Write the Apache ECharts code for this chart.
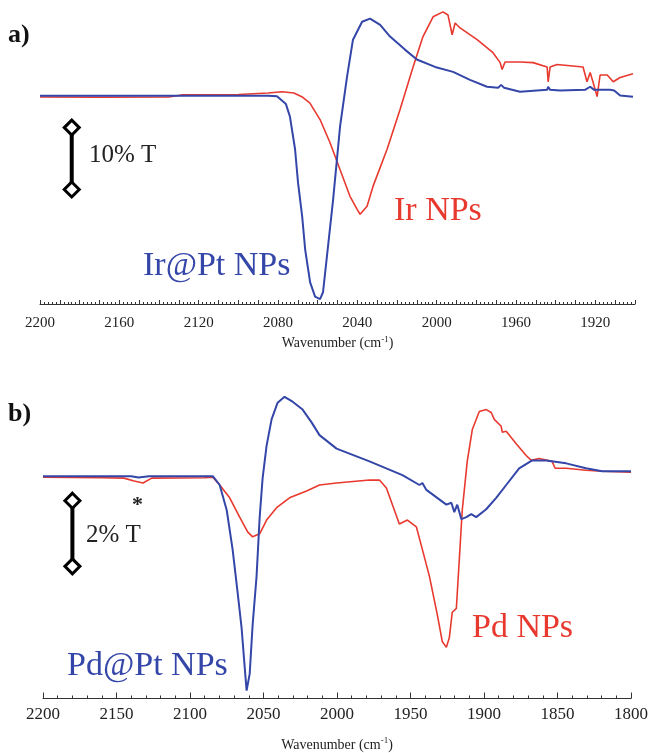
<!DOCTYPE html>
<html>
<head>
<meta charset="utf-8">
<script src="https://cdn.jsdelivr.net/npm/echarts@6/dist/echarts.min.js"></script>
<style>
  html, body { margin: 0; padding: 0; background: #fff; }
  #chart { width: 651px; height: 753px; }
</style>
</head>
<body>
<div id="chart"></div>
<script>
// panel a: Ir@Pt NPs (blue) and Ir NPs (red), relative %T
const irPtWn = [2200, 2150, 2100, 2085, 2080.5, 2076, 2074, 2071.4, 2069.9, 2067.8, 2066.3, 2063.8, 2061.3, 2058.8,
  2057.3, 2052.2, 2048.7, 2045.2, 2042.2, 2037.6, 2033.6, 2028.5, 2023.5, 2016, 2010, 2000.8, 1991.7, 1983.2,
  1974.6, 1969, 1967.5, 1966, 1958, 1944.3, 1943.8, 1942.8, 1937.8, 1925.2, 1922.6, 1920.6, 1917.6, 1912.6,
  1910.5, 1907.5, 1901]
const irPtT = [0.15, 0.15, 0.15, 0.15, 0.05, -1.2, -3.2, -8.5, -13.9, -19.4, -24.7, -30, -32.3, -32.7,
  -31.6, -16.6, -4.8, 3.2, 9.2, 12.1, 12.6, 11.6, 9.7, 7.6, 6.0, 4.8, 4.0, 2.7,
  1.6, 1.45, 1.9, 1.45, 0.8, 1.1, 1.6, 1.1, 1.0, 1.1, 1.6, 1.1, 1.1, 1.1,
  1.0, 0.2, 0.0]

const irWn = [2200, 2170, 2135, 2128, 2100, 2085, 2078, 2072, 2068, 2064, 2058.8, 2053.8, 2048.7, 2043.7, 2040.1,
  2038.6, 2035.1, 2032.1, 2025, 2018.5, 2011.9, 2006.9, 2001.8, 1996.8, 1994.3, 1992.2, 1990.7, 1988.2, 1979.6,
  1971.6, 1968, 1967, 1965.5, 1958, 1951.4, 1944.3, 1943.8, 1942.8, 1939.3, 1926.2, 1924.2, 1922.6, 1921.1,
  1919.1, 1917.6, 1914, 1911, 1907.5, 1901]
const irT = [-0.05, -0.1, -0.05, 0.3, 0.35, 0.6, 0.8, 0.6, 0.0, -1.0, -3.7, -7.4, -11.8, -16.1, -18.2,
  -19.0, -17.7, -14.5, -8.5, -2.1, 4.8, 9.7, 12.9, 13.7, 13.2, 10.0, 11.9, 11.1, 9.2,
  7.1, 5.5, 4.4, 5.6, 5.6, 5.5, 4.8, 2.4, 4.8, 5.2, 4.8, 2.4, 3.9, 2.3,
  0.0, 3.5, 3.5, 2.4, 3.1, 3.7]

// panel b: Pd@Pt NPs (blue) and Pd NPs (red), relative %T
const pdPtWn = [2200, 2150, 2140, 2135, 2128, 2090, 2084.5, 2079.8, 2075, 2071, 2067.6, 2064.9, 2062.8, 2061.5,
  2059.4, 2057.4, 2054.7, 2052.6, 2050.6, 2047.9, 2044.5, 2040.4, 2035.7, 2030.2, 2023.4, 2017.3, 2011.9,
  2000.3, 1977.9, 1955.5, 1943.9, 1941.9, 1939.2, 1925.6, 1922.2, 1920.2, 1918.2, 1915.4, 1912, 1908.7,
  1905.3, 1898.5, 1891.7, 1884.9, 1876.1, 1867.2, 1857.7, 1844.1, 1830.6, 1819.7, 1800]
const pdPtT = [0, 0, 0, -0.04, 0, 0, 0, -0.27, -1.04, -2.24, -3.55, -4.63, -5.82, -6.54,
  -6.03, -4.54, -3.04, -1.25, -0.06, 0.93, 1.73, 2.24, 2.42, 2.27, 2.03, 1.64, 1.25,
  0.84, 0.45, 0.03, -0.27, -0.21, -0.42, -0.87, -0.81, -1.1, -0.87, -1.31, -1.25, -1.16,
  -1.25, -1.01, -0.66, -0.27, 0.24, 0.48, 0.48, 0.39, 0.24, 0.15, 0.15]

const pdWn = [2200, 2160, 2145, 2138, 2132, 2126, 2090, 2084.5, 2079.8, 2073, 2066.2, 2060.8, 2057.4, 2052.6,
  2047.9, 2041.1, 2032.3, 2020.7, 2011.9, 2000.3, 1977.9, 1971.1, 1966.4, 1962.3, 1957.6, 1952.1, 1946,
  1941.9, 1937.2, 1931.7, 1928.4, 1925.6, 1923.6, 1921.6, 1918.8, 1916.8, 1914.8, 1911.4, 1907.9, 1903.2,
  1898.5, 1895.1, 1893, 1888.3, 1887.6, 1884.9, 1878.1, 1871.3, 1867.9, 1862.5, 1853.7, 1851.6, 1844.1,
  1830.6, 1819.7, 1800]
const pdT = [-0.03, -0.05, -0.06, -0.15, -0.21, -0.06, -0.05, -0.03, -0.27, -0.66, -1.25, -1.7, -1.85, -1.76,
  -1.34, -0.96, -0.66, -0.45, -0.27, -0.21, -0.12, -0.12, -0.36, -0.87, -1.46, -1.34, -1.55,
  -2.24, -3.04, -4.24, -5.04, -5.22, -4.93, -4.15, -4.03, -2.54, -1.04, 0.45, 1.43, 1.97,
  2.03, 1.94, 1.73, 1.52, 1.34, 1.37, 0.99, 0.63, 0.48, 0.54, 0.45, 0.24, 0.24,
  0.18, 0.15, 0.12]

// scale bars: 10 %T (a) and 2 %T (b)
const barAWn = [2184, 2184]
const barAT = [-5, -15]
const barBWn = [2180, 2180]
const barBT = [-0.75, -2.75]

const BLUE = '#3446a8'
const RED = '#e8392f'
const SERIF = '"Liberation Serif", "DejaVu Serif", serif'

const zip = (xs, ys) => xs.map((x, i) => [x, ys[i]])

function xAxisOf(gridIndex, min, max, interval, labelStep, minorSplit, tickLen, fontSize, margin, nameGap) {
  return {
    type: 'value', gridIndex, min, max, interval, inverse: true,
    axisLine: { show: true, onZero: false, lineStyle: { color: '#333', width: 1 } },
    axisTick: { show: true, inside: true, length: tickLen, lineStyle: { color: '#333', width: 1 } },
    minorTick: { show: true, splitNumber: minorSplit, length: tickLen / 2, lineStyle: { color: '#333', width: 1 } },
    splitLine: { show: false },
    axisLabel: {
      color: '#222', fontFamily: SERIF, fontSize, margin,
      formatter: (v) => (v % labelStep === 0 ? String(v) : '')
    },
    name: 'Wavenumber (cm{sup|-1})',
    nameLocation: 'middle',
    nameGap,
    nameTextStyle: {
      color: '#222', fontFamily: SERIF, fontSize: 14,
      rich: { sup: { fontFamily: SERIF, fontSize: 9, color: '#222', padding: [0, 0, 8, 0] } }
    }
  }
}

function yAxisOf(gridIndex, min, max) {
  return { type: 'value', gridIndex, min, max, show: false }
}

function line(name, data, color, xi, width) {
  return {
    name, type: 'line', xAxisIndex: xi, yAxisIndex: xi, data,
    showSymbol: false, symbol: 'none', smooth: false,
    lineStyle: { color, width }, silent: true, animation: false
  }
}

function scaleBar(data, xi) {
  return {
    type: 'line', xAxisIndex: xi, yAxisIndex: xi, data,
    symbol: 'diamond', symbolSize: [15, 15], showSymbol: true,
    lineStyle: { color: '#000', width: 4 },
    itemStyle: { color: '#fff', borderColor: '#000', borderWidth: 3 },
    silent: true, animation: false, z: 5
  }
}

const chart = echarts.init(document.getElementById('chart'))

function txt(left, top, text, color, size, weight) {
  return {
    type: 'text', left, top,
    style: { text, fill: color, font: `${weight || 'normal'} ${size}px ${SERIF}` }
  }
}

chart.setOption({
  backgroundColor: '#fff',
  animation: false,
  grid: [
    { left: 40, top: 10, width: 595, height: 294 },
    { left: 43, top: 383, width: 589, height: 322 }
  ],
  xAxis: [
    xAxisOf(0, 1900, 2200, 10, 40, 5, 4, 15, 12, 31),
    xAxisOf(1, 1800, 2200, 50, 50, 5, 6, 17, 8, 38)
  ],
  yAxis: [
    yAxisOf(0, -33.5, 14),
    yAxisOf(1, -6.78, 2.84)
  ],
  series: [
    line('Ir NPs', zip(irWn, irT), RED, 0, 1.6),
    line('Ir@Pt NPs', zip(irPtWn, irPtT), BLUE, 0, 2),
    line('Pd NPs', zip(pdWn, pdT), RED, 1, 1.6),
    line('Pd@Pt NPs', zip(pdPtWn, pdPtT), BLUE, 1, 2),
    scaleBar(zip(barAWn, barAT), 0),
    scaleBar(zip(barBWn, barBT), 1)
  ],
  graphic: [
    txt(8, 22, 'a)', '#111', 26, 'bold'),
    txt(8, 401, 'b)', '#111', 26, 'bold'),
    txt(89, 143, '10% T', '#222', 25),
    txt(86, 523, '2% T', '#222', 25),
    txt(132, 494, '*', '#222', 22, 'bold'),
    txt(143, 249, 'Ir@Pt NPs', BLUE, 34),
    txt(394, 194, 'Ir NPs', RED, 34),
    txt(67, 649, 'Pd@Pt NPs', BLUE, 34),
    txt(472, 611, 'Pd NPs', RED, 34)
  ]
})
</script>
</body>
</html>
